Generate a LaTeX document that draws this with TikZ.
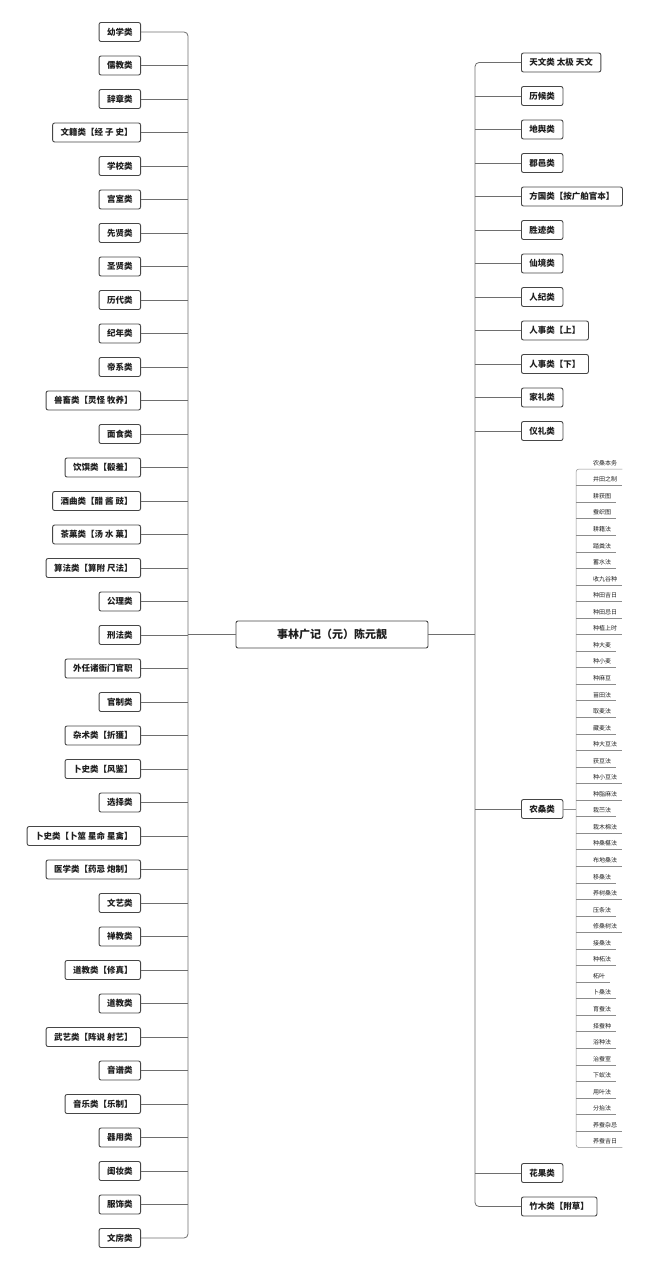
\documentclass[tikz,border=0pt]{standalone}
\usepackage{fontspec}
\setmainfont{Noto Sans CJK SC}
\usepackage{tikz}
\usepackage{xcolor}
\definecolor{boxline}{RGB}{70,70,70}
\definecolor{linkline}{RGB}{110,110,110}
\definecolor{twigline}{RGB}{140,140,140}
\definecolor{textcol}{RGB}{30,30,30}

\begin{document}
\begin{tikzpicture}[
    x=1pt, y=-1pt,
    box/.style={draw=boxline, rounded corners=2pt, line width=0.9pt, fill=white, minimum height=19pt, inner xsep=8pt, inner ysep=0pt, text=textcol, font=\fontsize{8.5}{10}\selectfont\bfseries},
    lbox/.style={box, anchor=east},
    rbox/.style={box, anchor=west},
    rootbox/.style={box, minimum width=192pt, minimum height=27pt, font=\fontsize{11}{13}\selectfont\bfseries},
    leaf/.style={anchor=south west, inner xsep=5pt, inner ysep=3pt, text=textcol, font=\fontsize{6}{7}\selectfont},
    link/.style={draw=linkline, line width=0.8pt},
    twig/.style={draw=twigline, line width=0.5pt}
]
\useasboundingbox (0,0) rectangle (650,1269);

% ---------- Root ----------
\node[rootbox] (root) at (332,634.5) {事林广记（元）陈元靓};

\coordinate (lspine) at (188,0);
\coordinate (rspine) at (475,0);
\coordinate (brk) at (576,0);

% ---------- LEFT ----------
\node[lbox] (youxue) at (141,32) {幼学类};
\node[lbox] (rujiao) at (141,65.5) {儒教类};
\node[lbox] (cizhang) at (141,99) {辞章类};
\node[lbox] (wenji) at (141,132.5) {文籍类【经 子 史】};
\node[lbox] (xuexiao) at (141,166) {学校类};
\node[lbox] (gongshi) at (141,199.5) {宫室类};
\node[lbox] (xianxian) at (141,233) {先贤类};
\node[lbox] (shengxian) at (141,266.5) {圣贤类};
\node[lbox] (lidai) at (141,300) {历代类};
\node[lbox] (jinian) at (141,333.5) {纪年类};
\node[lbox] (dixi) at (141,367) {帝系类};
\node[lbox] (shouchu) at (141,400.5) {兽畜类【灵怪 牧养】};
\node[lbox] (mianshi) at (141,434) {面食类};
\node[lbox] (yinzhuan) at (141,467.5) {饮馔类【殽羞】};
\node[lbox] (jiuqu) at (141,501) {酒曲类【醋 酱 豉】};
\node[lbox] (chaguo) at (141,534.5) {茶菓类【汤 水 菓】};
\node[lbox] (suanfa) at (141,568) {算法类【算附 尺法】};
\node[lbox] (gongli) at (141,601.5) {公理类};
\node[lbox] (xingfa) at (141,635) {刑法类};
\node[lbox] (waiwei) at (141,668.5) {外任诸衙门官职};
\node[lbox] (guanzhi) at (141,702) {官制类};
\node[lbox] (zashu) at (141,735.5) {杂术类【折獲】};
\node[lbox] (bushi) at (141,769) {卜史类【风鉴】};
\node[lbox] (xuanze) at (141,802.5) {选择类};
\node[lbox] (bushib) at (141,836) {卜史类【卜筮 星命 星禽】};
\node[lbox] (yixue) at (141,869.5) {医学类【药忌 炮制】};
\node[lbox] (wenyi) at (141,903) {文艺类};
\node[lbox] (chanjiao) at (141,936.5) {禅教类};
\node[lbox] (xiuzhen) at (141,970) {道教类【修真】};
\node[lbox] (daojiao) at (141,1003.5) {道教类};
\node[lbox] (wuyi) at (141,1037) {武艺类【阵说 射艺】};
\node[lbox] (yinpu) at (141,1070.5) {音谱类};
\node[lbox] (yinyue) at (141,1104) {音乐类【乐制】};
\node[lbox] (qiyong) at (141,1137.5) {器用类};
\node[lbox] (guizhuang) at (141,1171) {闺妆类};
\node[lbox] (fushi) at (141,1204.5) {服饰类};
\node[lbox] (wenfang) at (141,1238) {文房类};

\draw[link, rounded corners=4pt] (youxue.east) -- (lspine |- youxue.east) -- (lspine |- wenfang.east) -- (wenfang.east);
\draw[link] (rujiao.east) -- (lspine |- rujiao.east) (cizhang.east) -- (lspine |- cizhang.east)
  (wenji.east) -- (lspine |- wenji.east) (xuexiao.east) -- (lspine |- xuexiao.east)
  (gongshi.east) -- (lspine |- gongshi.east) (xianxian.east) -- (lspine |- xianxian.east)
  (shengxian.east) -- (lspine |- shengxian.east) (lidai.east) -- (lspine |- lidai.east)
  (jinian.east) -- (lspine |- jinian.east) (dixi.east) -- (lspine |- dixi.east)
  (shouchu.east) -- (lspine |- shouchu.east) (mianshi.east) -- (lspine |- mianshi.east)
  (yinzhuan.east) -- (lspine |- yinzhuan.east) (jiuqu.east) -- (lspine |- jiuqu.east)
  (chaguo.east) -- (lspine |- chaguo.east) (suanfa.east) -- (lspine |- suanfa.east)
  (gongli.east) -- (lspine |- gongli.east) (xingfa.east) -- (lspine |- xingfa.east)
  (waiwei.east) -- (lspine |- waiwei.east) (guanzhi.east) -- (lspine |- guanzhi.east)
  (zashu.east) -- (lspine |- zashu.east) (bushi.east) -- (lspine |- bushi.east)
  (xuanze.east) -- (lspine |- xuanze.east) (bushib.east) -- (lspine |- bushib.east)
  (yixue.east) -- (lspine |- yixue.east) (wenyi.east) -- (lspine |- wenyi.east)
  (chanjiao.east) -- (lspine |- chanjiao.east) (xiuzhen.east) -- (lspine |- xiuzhen.east)
  (daojiao.east) -- (lspine |- daojiao.east) (wuyi.east) -- (lspine |- wuyi.east)
  (yinpu.east) -- (lspine |- yinpu.east) (yinyue.east) -- (lspine |- yinyue.east)
  (qiyong.east) -- (lspine |- qiyong.east) (guizhuang.east) -- (lspine |- guizhuang.east)
  (fushi.east) -- (lspine |- fushi.east);
\draw[link] (lspine |- root.west) -- (root.west);

% ---------- RIGHT ----------
\node[rbox] (tianwen) at (521,62.5) {天文类 太极 天文};
\node[rbox] (lihou) at (521,96) {历候类};
\node[rbox] (diyu) at (521,129.5) {地舆类};
\node[rbox] (junyi) at (521,163) {郡邑类};
\node[rbox] (fangguo) at (521,196.5) {方国类【按广舶官本】};
\node[rbox] (shengji) at (521,230) {胜迹类};
\node[rbox] (xianjing) at (521,263.5) {仙境类};
\node[rbox] (renji) at (521,297) {人纪类};
\node[rbox] (renshia) at (521,330.5) {人事类【上】};
\node[rbox] (renshib) at (521,364) {人事类【下】};
\node[rbox] (jiali) at (521,397.5) {家礼类};
\node[rbox] (yili) at (521,431) {仪礼类};
\node[rbox] (nongsang) at (521,809) {农桑类};
\node[rbox] (huaguo) at (521,1173) {花果类};
\node[rbox] (zhumu) at (521,1206.5) {竹木类【附草】};

\draw[link] (root.east) -- (rspine |- root.east);
\draw[link, rounded corners=4pt] (tianwen.west) -- (rspine |- tianwen.west) -- (rspine |- zhumu.west) -- (zhumu.west);
\draw[link] (rspine |- lihou.west) -- (lihou.west) (rspine |- diyu.west) -- (diyu.west)
  (rspine |- junyi.west) -- (junyi.west) (rspine |- fangguo.west) -- (fangguo.west)
  (rspine |- shengji.west) -- (shengji.west) (rspine |- xianjing.west) -- (xianjing.west)
  (rspine |- renji.west) -- (renji.west) (rspine |- renshia.west) -- (renshia.west)
  (rspine |- renshib.west) -- (renshib.west) (rspine |- jiali.west) -- (jiali.west)
  (rspine |- yili.west) -- (yili.west) (rspine |- nongsang.west) -- (nongsang.west)
  (rspine |- huaguo.west) -- (huaguo.west);

% ---------- 农桑类 ----------
\node[leaf] (nong1) at (588,469) {农桑本务};
\node[leaf] (nong2) at (588,485.55) {井田之制};
\node[leaf] (nong3) at (588,502.1) {耕获图};
\node[leaf] (nong4) at (588,518.65) {蚕织图};
\node[leaf] (nong5) at (588,535.2) {耕籍法};
\node[leaf] (nong6) at (588,551.75) {踏粪法};
\node[leaf] (nong7) at (588,568.3) {蓄水法};
\node[leaf] (nong8) at (588,584.85) {收九谷种};
\node[leaf] (nong9) at (588,601.4) {种田吉日};
\node[leaf] (nong10) at (588,617.95) {种田忌日};
\node[leaf] (nong11) at (588,634.5) {种植上时};
\node[leaf] (nong12) at (588,651.05) {种大麦};
\node[leaf] (nong13) at (588,667.6) {种小麦};
\node[leaf] (nong14) at (588,684.15) {种麻豆};
\node[leaf] (nong15) at (588,700.7) {苗田法};
\node[leaf] (nong16) at (588,717.25) {取麦法};
\node[leaf] (nong17) at (588,733.8) {藏麦法};
\node[leaf] (nong18) at (588,750.35) {种大豆法};
\node[leaf] (nong19) at (588,766.9) {获豆法};
\node[leaf] (nong20) at (588,783.45) {种小豆法};
\node[leaf] (nong21) at (588,800) {种脂麻法};
\node[leaf] (nong22) at (588,816.55) {栽苎法};
\node[leaf] (nong23) at (588,833.1) {栽木棉法};
\node[leaf] (nong24) at (588,849.65) {种桑椹法};
\node[leaf] (nong25) at (588,866.2) {布地桑法};
\node[leaf] (nong26) at (588,882.75) {移桑法};
\node[leaf] (nong27) at (588,899.3) {养树桑法};
\node[leaf] (nong28) at (588,915.85) {压条法};
\node[leaf] (nong29) at (588,932.4) {修桑树法};
\node[leaf] (nong30) at (588,948.95) {接桑法};
\node[leaf] (nong31) at (588,965.5) {种柘法};
\node[leaf] (nong32) at (588,982.05) {柘叶};
\node[leaf] (nong33) at (588,998.6) {卜桑法};
\node[leaf] (nong34) at (588,1015.15) {育蚕法};
\node[leaf] (nong35) at (588,1031.7) {择蚕种};
\node[leaf] (nong36) at (588,1048.25) {浴种法};
\node[leaf] (nong37) at (588,1064.8) {治蚕室};
\node[leaf] (nong38) at (588,1081.35) {下蚁法};
\node[leaf] (nong39) at (588,1097.9) {用叶法};
\node[leaf] (nong40) at (588,1114.45) {分抬法};
\node[leaf] (nong41) at (588,1131) {养蚕杂忌};
\node[leaf] (nong42) at (588,1147.55) {养蚕吉日};

\draw[twig] (nongsang.east) -- (brk |- nongsang.east);
\draw[twig, rounded corners=3pt] (nong1.south east) -- (brk |- nong1.south) -- (brk |- nong42.south) -- (nong42.south east);
\draw[twig] (brk |- nong2.south) -- (nong2.south east) (brk |- nong3.south) -- (nong3.south east)
  (brk |- nong4.south) -- (nong4.south east) (brk |- nong5.south) -- (nong5.south east)
  (brk |- nong6.south) -- (nong6.south east) (brk |- nong7.south) -- (nong7.south east)
  (brk |- nong8.south) -- (nong8.south east) (brk |- nong9.south) -- (nong9.south east)
  (brk |- nong10.south) -- (nong10.south east) (brk |- nong11.south) -- (nong11.south east)
  (brk |- nong12.south) -- (nong12.south east) (brk |- nong13.south) -- (nong13.south east)
  (brk |- nong14.south) -- (nong14.south east) (brk |- nong15.south) -- (nong15.south east)
  (brk |- nong16.south) -- (nong16.south east) (brk |- nong17.south) -- (nong17.south east)
  (brk |- nong18.south) -- (nong18.south east) (brk |- nong19.south) -- (nong19.south east)
  (brk |- nong20.south) -- (nong20.south east) (brk |- nong21.south) -- (nong21.south east)
  (brk |- nong22.south) -- (nong22.south east) (brk |- nong23.south) -- (nong23.south east)
  (brk |- nong24.south) -- (nong24.south east) (brk |- nong25.south) -- (nong25.south east)
  (brk |- nong26.south) -- (nong26.south east) (brk |- nong27.south) -- (nong27.south east)
  (brk |- nong28.south) -- (nong28.south east) (brk |- nong29.south) -- (nong29.south east)
  (brk |- nong30.south) -- (nong30.south east) (brk |- nong31.south) -- (nong31.south east)
  (brk |- nong32.south) -- (nong32.south east) (brk |- nong33.south) -- (nong33.south east)
  (brk |- nong34.south) -- (nong34.south east) (brk |- nong35.south) -- (nong35.south east)
  (brk |- nong36.south) -- (nong36.south east) (brk |- nong37.south) -- (nong37.south east)
  (brk |- nong38.south) -- (nong38.south east) (brk |- nong39.south) -- (nong39.south east)
  (brk |- nong40.south) -- (nong40.south east) (brk |- nong41.south) -- (nong41.south east);

\end{tikzpicture}
\end{document}
